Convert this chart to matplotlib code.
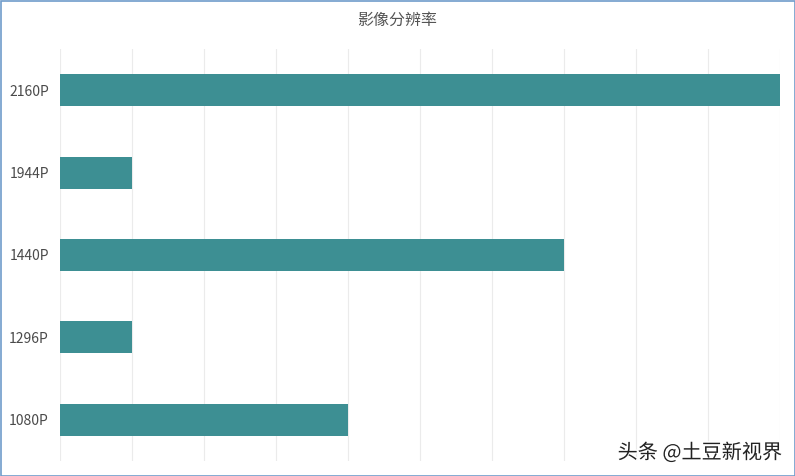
import matplotlib
matplotlib.use('Agg')
import matplotlib.pyplot as plt
import matplotlib.patheffects as pe

plt.rcParams['font.family'] = ['Noto Sans CJK SC', 'DejaVu Sans']

# data
labels = ['1080P', '1296P', '1440P', '1944P', '2160P']
values = [4, 1, 7, 1, 10]
title = '影像分辨率'
watermark = '头条 @土豆新视界'

fig = plt.figure(figsize=(7.95, 4.76), dpi=100)
ax = fig.add_axes([60/795, 15/476, 720/795, 412/476])

ax.barh(labels, values, height=0.39, color='#3d8f93', zorder=3)
ax.set_xlim(0, 10)
ax.set_ylim(-0.5, 4.5)
ax.set_xticks(range(0, 11))
ax.xaxis.grid(True, color='#ebebeb', linewidth=0.8, zorder=0)
ax.tick_params(axis='x', length=0, labelbottom=False)
ax.tick_params(axis='y', length=0, pad=8, labelsize=10, labelcolor='#4a4a4a')
for s in ax.spines.values():
    s.set_visible(False)

fig.text(397/795, 1 - 20/476, title, ha='center', va='center',
         fontsize=11.5, color='#555555')

t = fig.text(782/795, 1 - 453/476, watermark, ha='right', va='center',
             fontsize=14.5, color='#222222')
t.set_path_effects([pe.withStroke(linewidth=2, foreground='white')])

# border
fig.patches.append(plt.Rectangle((0.5/795, 0.5/476), 1 - 1/795, 1 - 1/476,
                                 transform=fig.transFigure, fill=False,
                                 edgecolor='#6f9ccb', linewidth=1.2))

fig.savefig('out.png', dpi=100)
